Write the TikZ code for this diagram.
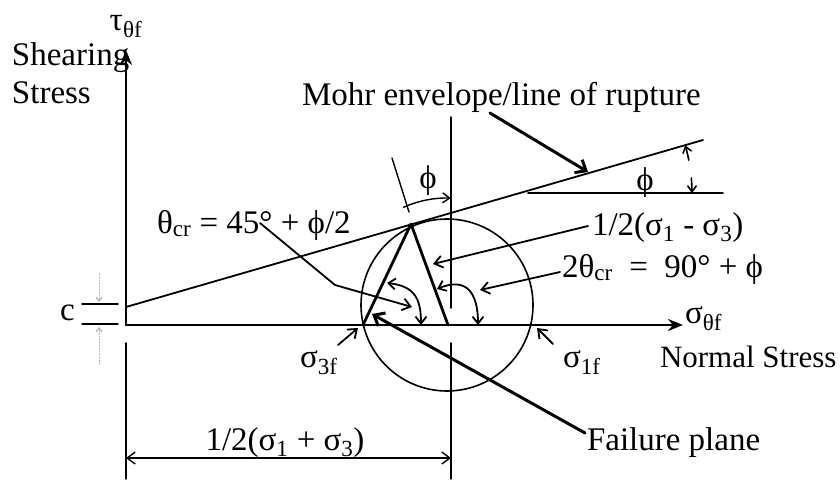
\documentclass[tikz,border=0pt]{standalone}
\usepackage{fontspec}
\setmainfont{Liberation Serif}
\usetikzlibrary{arrows.meta}
\newcommand\sbx[1]{\textsubscript{#1}}
\begin{document}
\begin{tikzpicture}[x=1pt,y=-1pt,line join=round,line cap=round,
  every node/.style={inner sep=0pt,outer sep=0pt,font=\fontsize{33}{38}\selectfont},
  smallfont/.style={font=\fontsize{31}{36}\selectfont},
  axisline/.style={line width=2.6pt,-{Stealth[length=15pt,width=12pt]}},
  plainaxis/.style={line width=2.6pt},
  envline/.style={line width=1.8pt},
  circline/.style={line width=1.6pt},
  legline/.style={line width=2.8pt},
  thinline/.style={line width=1.4pt},
  thickarrow/.style={line width=3pt,-{Straight Barb[length=9pt,width=15pt]}},
  leader/.style={line width=1.8pt,-{Straight Barb[length=8pt,width=12pt]}},
  dblleader/.style={line width=1.8pt,{Straight Barb[length=7pt,width=11pt]}-{Straight Barb[length=7pt,width=11pt]}},
  dimarrows/.style={line width=1.4pt,{Straight Barb[length=8pt,width=12pt]}-{Straight Barb[length=8pt,width=12pt]}},
  faint/.style={line width=1pt,gray!70,dotted,-{Straight Barb[length=4pt,width=6pt]}}
]
\useasboundingbox (0,0) rectangle (840,479);

% ---- coordinates
\coordinate (O) at (126,325);
\coordinate (Ytop) at (126,50);
\coordinate (Yb1) at (126,343);
\coordinate (Yb2) at (126,479);
\coordinate (Xend) at (683,325);
\coordinate (E1) at (126,307);
\coordinate (E2) at (703,140);
\coordinate (C) at (447,305);
\coordinate (V1) at (451,117);
\coordinate (V2) at (451,308);
\coordinate (V3) at (451,343);
\coordinate (V4) at (451,479);
\coordinate (A) at (363,325);
\coordinate (T) at (411,224);
\coordinate (B) at (448,325);

% ---- axes
\draw[axisline] (O) -- (Ytop);
\draw[axisline] (O) -- (Xend);
\draw[thinline] (Yb1) -- (Yb2);

% ---- Mohr envelope
\draw[envline] (E1) -- (E2);

% ---- Mohr circle
\draw[circline] (C) circle[radius=86];

% ---- centre line
\draw[thinline] (V1) -- (V2);
\draw[thinline] (V3) -- (V4);

% ---- triangle
\draw[legline] (A) -- (T) -- (B);

% ---- c marks
\coordinate (c1a) at (82,304); \coordinate (c1b) at (118,304);
\coordinate (c2a) at (82,324); \coordinate (c2b) at (118,324);
\draw[thinline] (c1a) -- (c1b);
\draw[thinline] (c2a) -- (c2b);
\coordinate (cf1) at (99,274); \coordinate (cf2) at (99,302);
\coordinate (cf3) at (99,364); \coordinate (cf4) at (99,327);
\draw[faint] (cf1) -- (cf2);
\draw[faint] (cf3) -- (cf4);
\node[anchor=base west] (clbl) at (60,320) {c};

% ---- axis labels
\node[anchor=base] (tau) at (126,30) {τ\sbx{θf}};
\node[anchor=base west] (shear) at (12,65) {Shearing};
\node[anchor=base west] (stress) at (12,103) {Stress};
\node[anchor=base west] (sig) at (685,323) {σ\sbx{θf}};
\node[anchor=base west,smallfont] (normal) at (660,367) {Normal Stress};

% ---- Mohr envelope label and leader
\node[anchor=base west] (mohr) at (302,105) {Mohr envelope/line of rupture};
\coordinate (m1) at (490,113); \coordinate (m2) at (588,172);
\draw[thickarrow] (m1) -- (m2);

% ---- phi at right
\coordinate (H1) at (528,193); \coordinate (H2) at (723,193);
\draw[envline] (H1) -- (H2);
\node[anchor=base] (phiR) at (645,190) {ϕ};
\coordinate (pa1) at (688.8,160.2);
\draw[line width=1.6pt,-{Straight Barb[length=6pt,width=9pt]}] (pa1) arc[start angle=-11,end angle=-16.1,radius=172];
\coordinate (pa2) at (691.3,178);
\draw[line width=1.6pt,-{Straight Barb[length=6pt,width=9pt]}] (pa2) arc[start angle=-5,end angle=0,radius=172];

% ---- phi at top (radius extension and arc)
\coordinate (r1) at (409,212); \coordinate (r2) at (392,158);
\draw[thinline] (r1) -- (r2);
\coordinate (pt1) at (403.5,207.3);
\draw[line width=1.4pt,-{Straight Barb[length=7pt,width=10pt]}] (pt1) arc[start angle=-114,end angle=-88,radius=107];
\coordinate (tk1) at (401,201); \coordinate (tk2) at (406,213);
\node[anchor=base] (phiT) at (428,188) {ϕ};

% ---- theta_cr label and leader
\node[anchor=base west] (thcr) at (157,233) {θ\sbx{cr} = 45° + ϕ/2};
\coordinate (t1) at (260,223); \coordinate (t2) at (335,285); \coordinate (t3) at (412,307);
\draw[leader] (t1) -- (t2) -- (t3);
\coordinate (ta1) at (387,283); \coordinate (ta2) at (421,325);
\draw[dblleader] (ta1) .. controls (414,286) and (421,298) .. (ta2);

% ---- 1/2(s1-s3)
\node[anchor=base west] (half) at (592,235) {1/2(σ\sbx{1} - σ\sbx{3})};
\coordinate (h1) at (588,226); \coordinate (h2) at (433,264);
\draw[leader] (h1) -- (h2);

% ---- 2 theta_cr
\node[anchor=base west] (twoth) at (562,277) {2θ\sbx{cr}\ \ =\ \ 90° + ϕ};
\coordinate (w1) at (560,272); \coordinate (w2) at (480,290);
\draw[leader] (w1) -- (w2);
\coordinate (wa1) at (437,289); \coordinate (wa2) at (478,325);
\draw[dblleader] (wa1) .. controls (468,276) and (478,295) .. (wa2);

% ---- sigma 3f and 1f
\node[anchor=base west] (s3) at (300,367) {σ\sbx{3f}};
\coordinate (s3a) at (338,345); \coordinate (s3b) at (358,328);
\draw[leader] (s3a) -- (s3b);
\node[anchor=base west] (s1) at (563,367) {σ\sbx{1f}};
\coordinate (s1a) at (553,344); \coordinate (s1b) at (537,328);
\draw[leader] (s1a) -- (s1b);

% ---- failure plane
\node[anchor=base west] (fail) at (587,450) {Failure plane};
\coordinate (f1) at (585,433); \coordinate (f2) at (372,314);
\draw[thickarrow] (f1) -- (f2);

% ---- dimension 1/2(s1+s3)
\coordinate (d1) at (126,458); \coordinate (d2) at (451,458);
\draw[dimarrows] (d1) -- (d2);
\node[anchor=base] (dimlbl) at (285,450) {1/2(σ\sbx{1} + σ\sbx{3})};
\end{tikzpicture}
\end{document}
